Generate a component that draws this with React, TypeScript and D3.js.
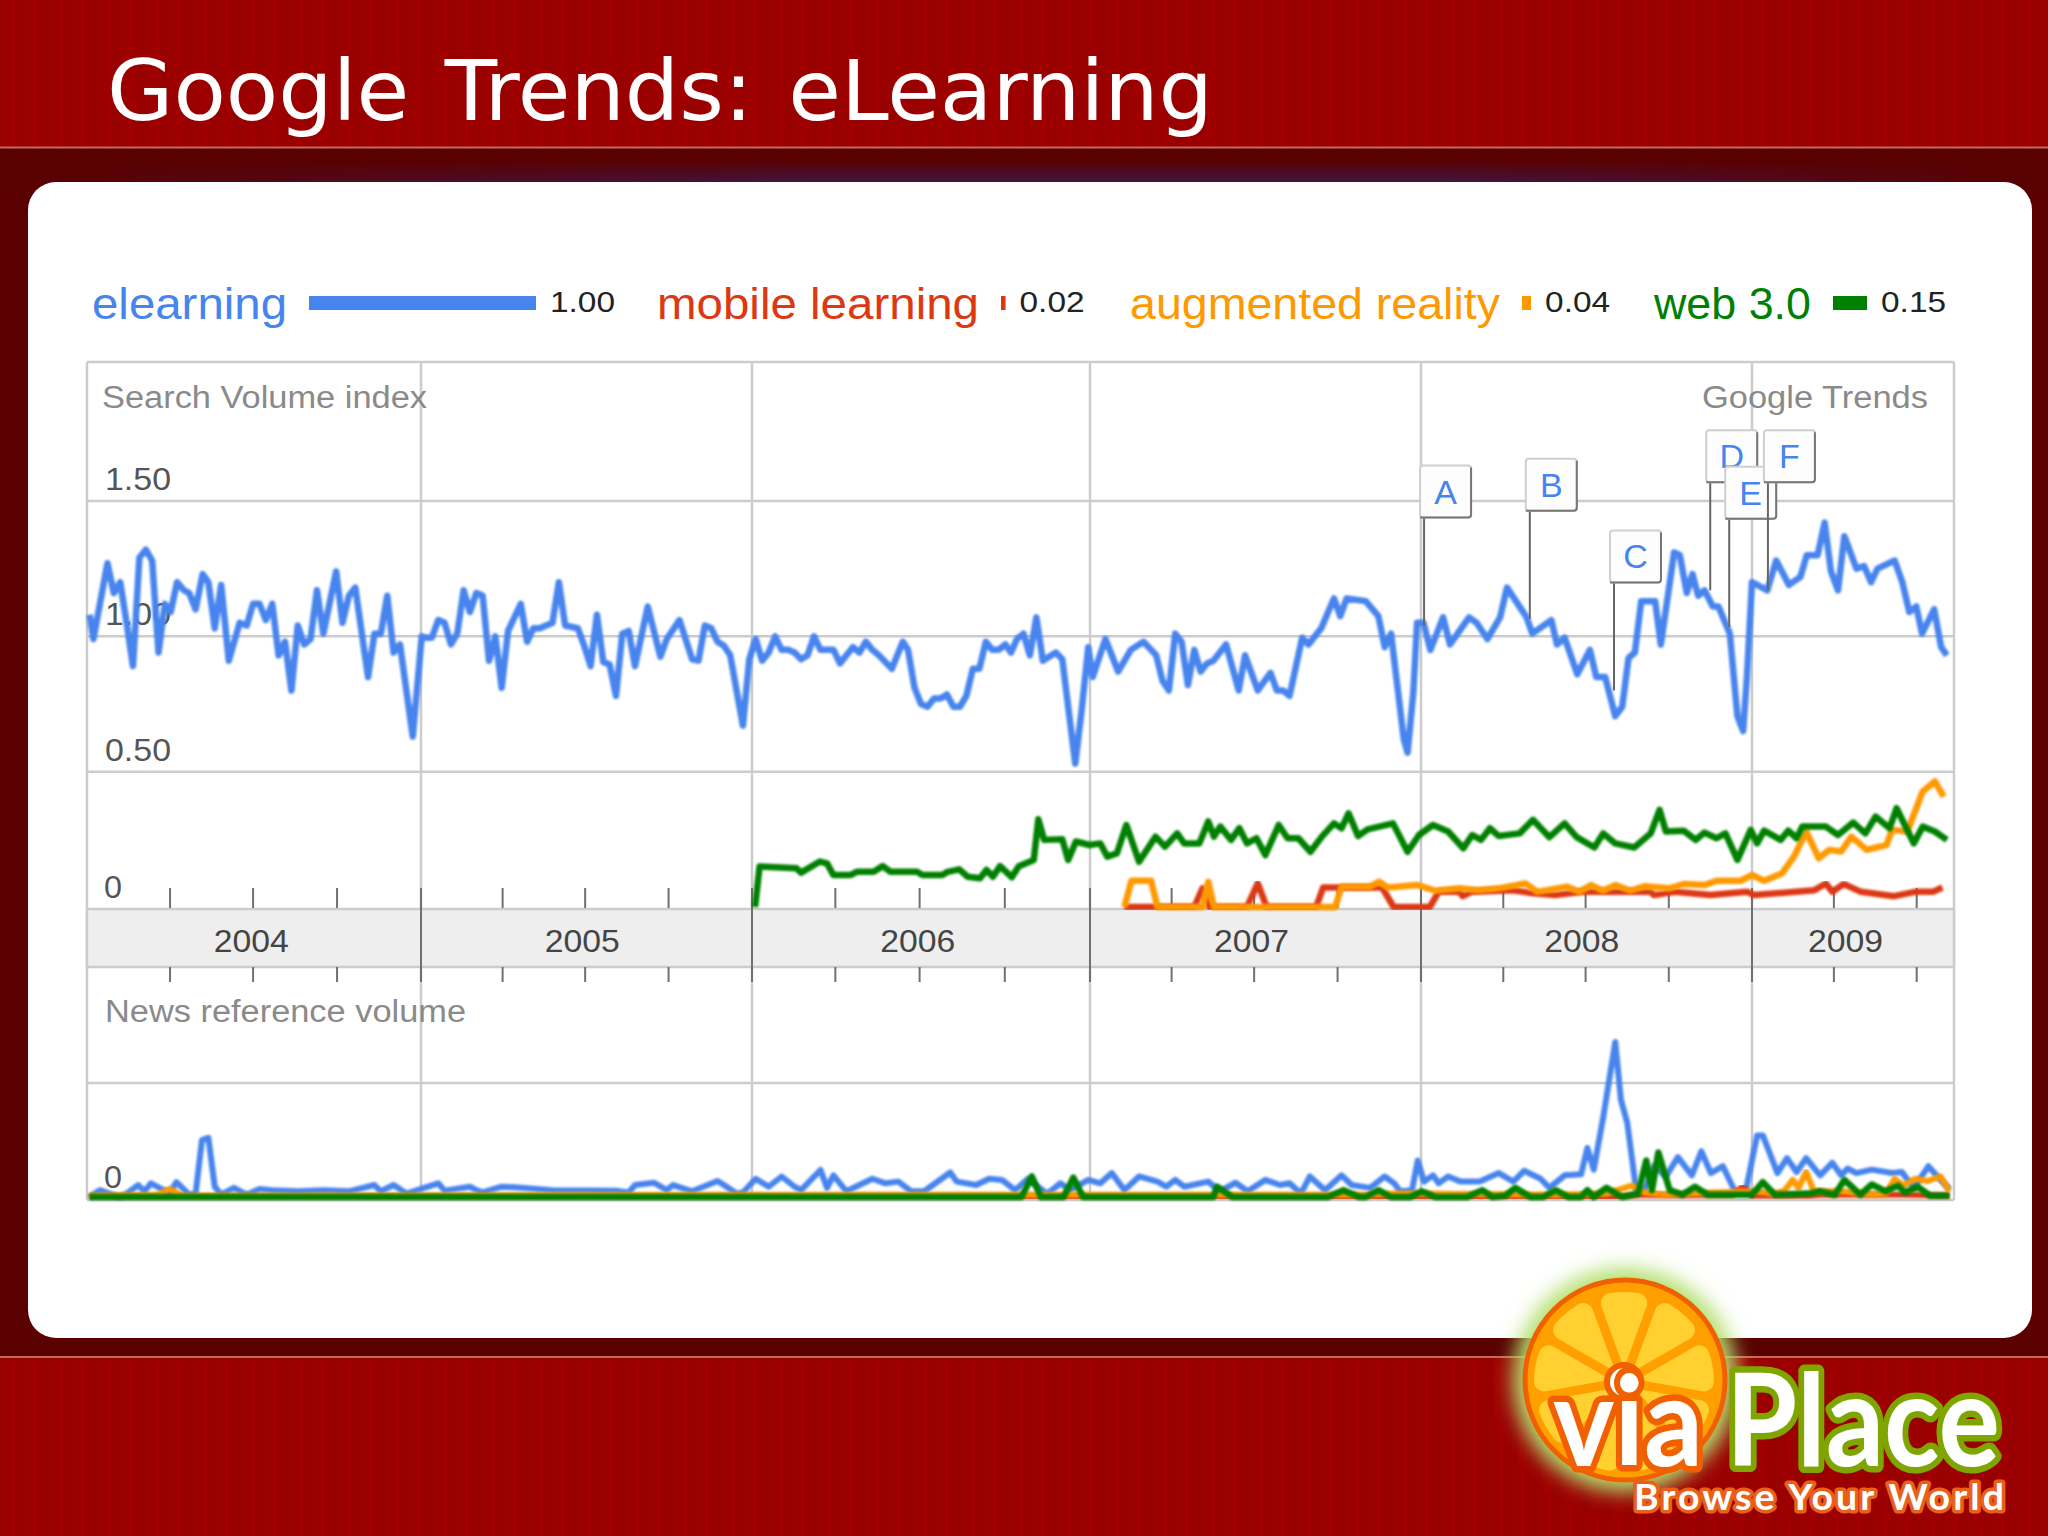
import * as d3 from 'd3';
import React, { useEffect, useRef } from 'react';

type Pt = [number, number];

// all series are [weeks since 1 Jan 2004, value]
const elearning: Pt[] = [
  [0.4,1.08],[1,.99],[3.2,1.27],[4.2,1.16],[5.2,1.2],[6.2,1.05],[7.2,.89],[8.2,1.29],[9.2,1.32],[10.2,1.28],
  [11.2,.94],[12.2,1.12],[13.1,1.09],[14.1,1.2],[15.2,1.17],[16,1.16],[17,1.1],[18.1,1.23],[19,1.2],[20,1.03],
  [21,1.19],[22.2,.91],[23.9,1.05],[25,1.04],[26,1.12],[27,1.12],[28,1.06],[29,1.12],[30,.93],[31,.98],
  [32,.8],[33,1.04],[34,.97],[35,.99],[36,1.17],[37,1.01],[39,1.24],[40,1.05],[41,1.15],[42,1.18],
  [44,.85],[45,1.01],[46,1.01],[47,1.15],[48,.94],[49,.97],[51,.63],[52.4,1],[53,.995],[54,.995],
  [55,1.06],[56,1.05],[57,.97],[58,1.01],[59,1.17],[60,1.09],[61,1.16],[62,1.15],[63,.91],[64,1],
  [65,.81],[66,1.02],[68,1.12],[69,.98],[70,1.03],[71,1.03],[72,1.04],[73,1.05],[74,1.2],[75,1.04],
  [77,1.03],[78,.965],[79,.89],[80,1.08],[81,.905],[82,.896],[83,.78],[84,1.01],[85,1.02],[86,.89],
  [88,1.11],[90,.925],[91,.99],[93,1.06],[95,.915],[96,.91],[97,1.04],[98,1.03],[99,.98],[100,.965],
  [101,.93],[103,.67],[104,.915],[105,.99],[106,.91],[107,.94],[108,1],[109,.95],[110,.95],[111,.94],
  [112,.915],[113,.93],[114,1],[115,.95],[116,.95],[117,.95],[118,.9],[119,.93],[120,.96],[121,.94],
  [122,.98],[123,.95],[124,.93],[126,.88],[127.7,.98],[128.5,.95],[129.5,.81],[130.5,.75],[131.5,.74],[132.5,.77],
  [133.5,.77],[134.5,.785],[135.5,.74],[136.5,.74],[137.5,.78],[138.5,.88],[139.5,.88],[140.5,.98],[141.5,.95],[142.5,.95],
  [143.5,.97],[144.4,.94],[145.3,.99],[146.3,1.01],[147.3,.93],[148.3,1.07],[149.3,.91],[151.3,.94],[152.3,.915],[154.3,.53],
  [155.3,.73],[156.3,.96],[157,.85],[159,.99],[161,.87],[163,.95],[165,.98],[167,.93],[168,.835],[169,.8],
  [170,1.01],[171,.98],[172,.82],[173,.95],[174,.87],[175,.9],[176,.91],[178,.97],[180,.8],[181,.93],
  [183,.8],[185,.865],[186,.8],[187,.8],[188,.78],[190,.995],[191,.97],[193,1.03],[195,1.14],[196,1.075],
  [197,1.14],[200,1.13],[202,1.075],[203,.96],[204,1.01],[206,.62],[206.6,.57],[207.5,.79],[208.1,1.05],[209.1,1.05],
  [210.2,.95],[212.2,1.07],[213.3,.97],[216.3,1.07],[217.5,1.05],[219.2,.99],[221.2,1.07],[222.3,1.18],[225.4,1.07],[226.3,1.01],
  [229.3,1.06],[230.2,.97],[231.4,.995],[233.4,.86],[235.4,.95],[236.4,.85],[237.8,.85],[239.4,.705],[240.5,.74],[241.5,.92],
  [242.5,.94],[243.5,1.13],[245.7,1.13],[246.6,.97],[248.7,1.31],[249.6,1.3],[250.7,1.16],[251.6,1.23],[252.5,1.15],[253.5,1.17],
  [254.8,1.11],[255.7,1.11],[257.5,1.01],[258.7,.705],[259.6,.65],[260.2,.85],[261,1.2],[263.4,1.17],[264.8,1.28],[266.8,1.19],
  [268.6,1.22],[269.6,1.3],[271.3,1.3],[272.4,1.42],[273.4,1.24],[274.5,1.17],[275.5,1.37],[277.4,1.25],[278.6,1.26],[279.7,1.2],
  [280.7,1.25],[283.4,1.28],[284.6,1.2],[285.7,1.09],[286.8,1.11],[287.7,1.01],[289.6,1.1],[290.7,.96],[291.6,.93],
];

const web30: Pt[] = [
  [104.9,0],[105.6,.15],[111.3,.143],[112,.127],[114.9,.168],[116,.161],[117,.118],[119.6,.118],[120.6,.13],[123.2,.13],
  [124.6,.151],[125.8,.13],[129.9,.13],[130.7,.118],[133.8,.118],[134.6,.13],[136.4,.139],[137.7,.112],[139.6,.106],[140.6,.137],
  [141.6,.112],[142.7,.151],[144.5,.11],[145.6,.151],[147.9,.174],[148.6,.324],[149.5,.248],[152.3,.25],[153.2,.174],[154.4,.242],
  [156.5,.229],[158.2,.235],[159.3,.186],[160.8,.198],[162.3,.303],[164.3,.167],[166.9,.26],[168.4,.223],[170.3,.272],[171.4,.235],
  [173.8,.235],[175.2,.316],[176.1,.26],[177.1,.297],[178.8,.248],[180.1,.291],[181.3,.235],[182.8,.254],[184.2,.192],[186.3,.303],
  [187.7,.254],[189.4,.254],[191.3,.204],[193.1,.26],[195,.309],[196.2,.291],[197.3,.346],[198.8,.262],[200.3,.287],[204.3,.309],
  [206.6,.204],[208.4,.266],[210.6,.303],[213,.279],[215.4,.217],[216.8,.266],[218.2,.248],[219.6,.291],[221,.262],[224.3,.272],
  [226.4,.322],[229,.258],[231.4,.309],[233.3,.258],[236.1,.22],[237.5,.272],[239.4,.235],[242.4,.22],[245,.272],[246.4,.359],
  [247.4,.279],[250.2,.282],[252.1,.248],[253.5,.275],[255.4,.254],[256.8,.272],[258.7,.174],[260.8,.285],[261.8,.235],[262.9,.282],
  [265.5,.248],[266.7,.282],[268,.254],[268.9,.297],[272.6,.297],[274.5,.266],[276.9,.312],[278.8,.272],[280.4,.334],[282.6,.291],
  [283.7,.365],[286.4,.235],[287.8,.297],[289.7,.279],[291.6,.248],
];

const augmentedReality: Pt[] = [
  [162,0],[163.1,.097],[166.2,.097],[167.2,0],[174.3,0],[175.2,.093],[176.1,0],[195.2,0],[196.2,.075],[200.7,.075],
  [202.1,.093],[203.5,.072],[208.2,.081],[211,.06],[214.8,.069],[217.7,.062],[221,.069],[225.2,.087],[227.1,.056],[231.8,.075],
  [233.7,.056],[235.6,.081],[237.5,.06],[239.4,.081],[241.8,.06],[244.1,.077],[247.9,.069],[250.2,.085],[253.5,.081],[255.4,.097],
  [259.2,.097],[261,.118],[262.9,.097],[265.7,.124],[267.6,.186],[269.5,.279],[271.5,.18],[273.1,.211],[275,.205],[276.6,.26],
  [279,.211],[282.1,.229],[283,.285],[285.4,.279],[287.8,.427],[289.7,.464],[291.1,.408],
];

const mobileLearning: Pt[] = [
  [162,0],[173,0],[174.3,.069],[175.4,0],[181.3,0],[183,.087],[184.4,0],[192.2,0],[193.3,.072],[202.6,.072],
  [204.4,0],[210.1,0],[211.5,.056],[214.8,.056],[215.3,.04],[216.7,.056],[223.3,.062],[225.7,.053],[229.9,.044],[234.2,.056],
  [245,.056],[245.5,.044],[248.8,.056],[254.4,.044],[260.3,.056],[261.3,.044],[270.8,.062],[272.6,.087],[273.6,.056],[275.4,.085],
  [278.1,.056],[283.3,.04],[286.6,.056],[289.4,.056],[290.9,.072],
];

const newsElearning: Pt[] = [
  [0.4,0],[2,.06],[5,0],[6,.02],[8,.105],[9,.05],[10,.12],[12,.06],[13,.04],[14,.13],
  [16,.02],[17,.03],[18,.5],[19,.52],[20,.09],[21,.02],[23,.08],[25,.02],[27,.07],[29,.06],
  [33,.05],[37,.06],[41,.05],[45,.105],[46,.05],[48,.105],[50,.03],[55,.12],[56,.056],[60,.09],
  [61,.06],[62,.04],[65,.09],[67,.085],[73,.06],[83,.055],[85,.04],[86,.105],[89,.125],[91,.06],
  [92,.105],[95,.05],[99,.14],[100,.105],[102,.03],[103,.04],[105,.16],[107,.09],[109,.18],[111,.09],
  [112,.06],[115,.237],[116,.08],[117,.19],[119,.05],[123,.16],[125,.12],[127,.135],[129,.05],[131,.05],
  [135,.215],[136,.135],[139,.105],[141,.16],[143,.15],[145,.06],[147,.16],[148.5,.09],[150,.03],[152,.12],
  [153.5,.06],[156.3,.15],[158.2,.12],[160,.21],[162,.06],[164.3,.18],[167.2,.135],[168.6,.09],[170,.15],[171.4,.09],
  [175.2,.135],[177,.05],[179.5,.125],[181.4,.05],[184.2,.15],[186.5,.105],[188,.12],[189.8,.03],[191.2,.18],[193.6,.06],
  [196.2,.19],[197.8,.105],[200.7,.08],[203,.18],[204.5,.12],[205.4,.05],[207.3,.06],[208.2,.32],[209.2,.135],[210.6,.19],
  [211.5,.12],[213,.18],[215,.135],[218,.135],[221,.21],[223.3,.135],[225,.23],[227.6,.16],[229,.08],[231.4,.19],
  [234,.2],[235,.43],[236,.24],[237.5,.7],[239.4,1.36],[240.3,.85],[241.3,.65],[242.7,.06],[244,.06],[245.5,.27],
  [247.4,.18],[249.3,.35],[251.5,.19],[253,.4],[254.5,.21],[256.4,.27],[258.3,.05],[260,.05],[261.8,.54],[262.7,.54],
  [265,.21],[266.5,.34],[268,.22],[269.5,.34],[271.7,.19],[273.6,.3],[275,.19],[276,.25],[277.4,.21],[279.8,.24],
  [283,.21],[284.5,.22],[286.4,.08],[288.7,.27],[290.6,.15],[292,.07],
];

const newsWeb30: Pt[] = [
  [0.4,0],[146,0],[147.6,.18],[149,0],[152.5,0],[154,.17],[155.5,0],[176,0],[176.6,.09],[179,0],
  [194,0],[196.5,.06],[199,0],[200,0],[202,.06],[204,0],[207,0],[208.8,.05],[211,0],[216,0],
  [218.4,.06],[220,0],[222,.01],[223.6,.08],[226,0],[228,0],[230,.06],[232,0],[234,0],[235,.06],
  [236,0],[238,.08],[240.5,0],[243,.03],[244.3,.32],[245.2,.06],[246.2,.39],[248,.06],[250,.02],[252,.09],
  [254,.02],[258,.02],[261,.02],[262.7,.13],[264.6,.02],[270,.03],[271.7,.05],[274,.02],[275.5,.15],[278,.02],
  [279.8,.11],[282,.05],[283.9,.1],[285,.04],[287,.09],[289,.01],[292,.01],
];

const newsAugmented: Pt[] = [
  [0.4,.01],[11,.02],[13,.07],[15,.01],[120,.02],[200,.02],[205,.03],[230,.02],[238,.03],[242,.1],
  [244,.04],[247,.02],[255,.04],[262,.05],[264,.03],[266,.05],[267.4,.15],[268.3,.08],[269.5,.22],[270.7,.05],
  [275,.05],[280,.02],[282,.03],[283.4,.16],[284.8,.1],[286.6,.16],[288.5,.14],[290.6,.18],[292,.05],
];

const newsMobile: Pt[] = [
  [0.4,0],[240,0],[243,.02],[250,.015],[258,.02],[259.5,.09],[261,.01],[270,.01],[272,.02],[285,.02],[292,.01],
];

const yearLabels = ['2004', '2005', '2006', '2007', '2008', '2009'];
const yearLabelWeeks = [25.7, 77.7, 130, 182, 234.1, 275.7];
const searchTicks = [0.5, 1, 1.5];
const searchTickLabels = ['0.50', '1.00', '1.50'];

const annotationLabels = ['A', 'B', 'C', 'D', 'E', 'F'];
const annotationWeeks = [209.2, 225.9, 239.2, 254.4, 257.4, 263.5];
const annotationValues = [1.04, 1.065, 0.8, 1.17, 1.035, 1.17];

const legendNames = ['elearning', 'mobile learning', 'augmented reality', 'web 3.0'];
const legendValues = [1.0, 0.02, 0.04, 0.15];
const legendColors = ['#4684ee', '#dc3912', '#ff9900', '#008000'];

const logoSegments = [1, 1, 1, 1, 1, 1, 1, 1, 1];

const weekDate = (w: number) => new Date(new Date(2004, 0, 1).getTime() + w * 7 * 864e5);

function App() {
  const ref = useRef<SVGSVGElement>(null);

  useEffect(() => {
    const svg = d3.select(ref.current);
    svg.selectAll('*').remove();

    const text = (g: any, s: string, x: number, y: number, size: number, fill: string, len?: number, font = '"Liberation Sans", Arial, sans-serif') => {
      const t = g.append('text').attr('x', x).attr('y', y).attr('font-size', size).attr('fill', fill)
        .attr('font-family', font).text(s);
      if (len) t.attr('textLength', len).attr('lengthAdjust', 'spacingAndGlyphs');
      return t;
    };

    // defs
    const defs = svg.append('defs');
    const stripes = defs.append('pattern').attr('id', 'stripes').attr('patternUnits', 'userSpaceOnUse')
      .attr('width', 24).attr('height', 24);
    stripes.append('rect').attr('width', 24).attr('height', 24).attr('fill', '#990000');
    stripes.append('rect').attr('x', 6).attr('width', 10).attr('height', 24).attr('fill', '#9e0000');
    defs.append('filter').attr('id', 'soft').append('feGaussianBlur').attr('stdDeviation', 0.8);
    defs.append('filter').attr('id', 'glow').attr('x', '-30%').attr('y', '-30%').attr('width', '160%').attr('height', '160%')
      .append('feGaussianBlur').attr('stdDeviation', 10);
    const haze = defs.append('linearGradient').attr('id', 'haze');
    haze.append('stop').attr('offset', '0%').attr('stop-color', '#3a1a50').attr('stop-opacity', 0);
    haze.append('stop').attr('offset', '40%').attr('stop-color', '#3a1a50').attr('stop-opacity', 0.9);
    haze.append('stop').attr('offset', '70%').attr('stop-color', '#3a1a50').attr('stop-opacity', 0.9);
    haze.append('stop').attr('offset', '100%').attr('stop-color', '#3a1a50').attr('stop-opacity', 0);
    const hazeFade = defs.append('linearGradient').attr('id', 'hazeFade').attr('x1', 0).attr('y1', 0).attr('x2', 0).attr('y2', 1);
    hazeFade.append('stop').attr('offset', '0%').attr('stop-color', 'black');
    hazeFade.append('stop').attr('offset', '100%').attr('stop-color', 'white');
    defs.append('mask').attr('id', 'hazeMask').attr('maskUnits', 'userSpaceOnUse')
      .attr('x', 0).attr('y', 160).attr('width', 2048).attr('height', 24)
      .append('rect').attr('y', 160).attr('width', 2048).attr('height', 24).attr('fill', 'url(#hazeFade)');
    const wedge = defs.append('radialGradient').attr('id', 'wedge').attr('gradientUnits', 'userSpaceOnUse')
      .attr('cx', 1624).attr('cy', 1382).attr('r', 92);
    wedge.append('stop').attr('offset', '0%').attr('stop-color', '#fffdf0');
    wedge.append('stop').attr('offset', '50%').attr('stop-color', '#fff0b0');
    wedge.append('stop').attr('offset', '100%').attr('stop-color', '#ffd030');

    // slide background
    svg.append('rect').attr('width', 2048).attr('height', 1536).attr('fill', '#5a0000');
    svg.append('rect').attr('width', 2048).attr('height', 147).attr('fill', 'url(#stripes)');
    svg.append('rect').attr('y', 1357).attr('width', 2048).attr('height', 179).attr('fill', 'url(#stripes)');
    svg.append('rect').attr('y', 146.5).attr('width', 2048).attr('height', 2).attr('fill', '#c06a58');
    svg.append('rect').attr('y', 1356).attr('width', 2048).attr('height', 2).attr('fill', '#c06a58');
    svg.append('rect').attr('y', 160).attr('width', 2048).attr('height', 24).attr('fill', 'url(#haze)').attr('mask', 'url(#hazeMask)');
    svg.append('rect').attr('x', 28).attr('y', 182).attr('width', 2004).attr('height', 1156).attr('rx', 28).attr('fill', '#fff');

    text(svg, 'Google Trends: eLearning', 107, 120, 84, '#fff', 1106, '"DejaVu Sans", Verdana, sans-serif').attr('word-spacing', 8);

    // legend
    const x = d3.scaleTime()
      .domain([new Date(2004, 0, 1), new Date(2005, 0, 1), new Date(2006, 0, 1), new Date(2007, 0, 1), new Date(2008, 0, 1), new Date(2009, 0, 1), new Date(2009, 7, 11)])
      .range([87, 421, 752, 1090, 1421, 1752, 1954]);
    const bar = d3.scaleLinear().domain([0, 1]).range([0, 227]);

    const legendX = [92, 657, 1130, 1654];
    const nameLen = [195, 322, 370, 157];
    const legend = svg.append('g');
    legendNames.forEach((name, i) => {
      text(legend, name, legendX[i], 319, 44, legendColors[i], nameLen[i]);
      const bx = legendX[i] + nameLen[i] + 22;
      legend.append('rect').attr('x', bx).attr('y', 296).attr('height', 14).attr('width', bar(legendValues[i])).attr('fill', legendColors[i]);
      text(legend, legendValues[i].toFixed(2), bx + bar(legendValues[i]) + 14, 312, 29, '#222', 65);
    });

    // grid
    const yS = d3.scaleLinear().domain([0, 1.5]).range([907, 501]);
    const yN = d3.scaleLinear().domain([0, 1]).range([1197, 1083]);
    const grid = svg.append('g').attr('stroke', '#cccccc').attr('stroke-width', 2.5);
    const years = d3.timeYear.range(new Date(2005, 0, 1), new Date(2010, 0, 1));
    const hLines = [362, ...searchTicks.map((d) => yS(d)), 1083, 1200];
    hLines.forEach((y) => grid.append('line').attr('x1', 87).attr('x2', 1954).attr('y1', y).attr('y2', y));
    [87, 1954, ...years.map((d) => x(d))].forEach((px) =>
      grid.append('line').attr('x1', px).attr('x2', px).attr('y1', 362).attr('y2', 1200));

    // axis labels
    const labels = svg.append('g');
    text(labels, 'Search Volume index', 102, 408, 31, '#8a8a8a', 325);
    text(labels, 'Google Trends', 1702, 408, 31, '#8a8a8a', 226);
    text(labels, 'News reference volume', 105, 1022, 31, '#8a8a8a', 361);
    searchTickLabels.forEach((s, i) => text(labels, s, 105, yS(searchTicks[i]) - 11, 32, '#555', 66));
    text(labels, '0', 104, 898, 32, '#555', 18);
    text(labels, '0', 104, 1188, 32, '#555', 18);

    // year band and ticks
    svg.append('rect').attr('x', 87).attr('y', 909).attr('width', 1867).attr('height', 58).attr('fill', '#eeeeee');
    svg.append('g').attr('stroke', '#cccccc').attr('stroke-width', 2.5).call((g: any) => {
      g.append('line').attr('x1', 87).attr('x2', 1954).attr('y1', 909).attr('y2', 909);
      g.append('line').attr('x1', 87).attr('x2', 1954).attr('y1', 967).attr('y2', 967);
      g.append('line').attr('x1', 87).attr('x2', 87).attr('y1', 909).attr('y2', 967);
      g.append('line').attr('x1', 1954).attr('x2', 1954).attr('y1', 909).attr('y2', 967);
    });
    const ticks = svg.append('g').attr('stroke', '#707070').attr('stroke-width', 2);
    const tickDates = x.ticks(d3.timeMonth.every(3) as any);
    tickDates.filter((d) => d > x.domain()[0]).forEach((d) => {
      const px = x(d);
      if (d.getMonth() === 0) {
        ticks.append('line').attr('x1', px).attr('x2', px).attr('y1', 888).attr('y2', 982);
      } else {
        ticks.append('line').attr('x1', px).attr('x2', px).attr('y1', 888).attr('y2', 908);
        ticks.append('line').attr('x1', px).attr('x2', px).attr('y1', 967).attr('y2', 982);
      }
    });
    yearLabels.forEach((s, i) =>
      text(svg, s, x(weekDate(yearLabelWeeks[i])), 952, 31, '#444', 75).attr('text-anchor', 'middle'));

    // series
    const drawSeries = (data: Pt[], y: any, color: string, width: number) => {
      const line = d3.line<Pt>().x((d) => x(weekDate(d[0]))).y((d) => y(d[1]));
      svg.append('path').datum(data).attr('d', line).attr('fill', 'none').attr('stroke', color)
        .attr('stroke-width', width).attr('stroke-linejoin', 'round').attr('filter', 'url(#soft)');
    };
    drawSeries(elearning, yS, legendColors[0], 6.5);
    drawSeries(mobileLearning, yS, legendColors[1], 6.5);
    drawSeries(augmentedReality, yS, legendColors[2], 6.5);
    drawSeries(web30, yS, legendColors[3], 6.5);
    drawSeries(newsElearning, yN, legendColors[0], 6);
    drawSeries(newsMobile, yN, legendColors[1], 6);
    drawSeries(newsAugmented, yN, legendColors[2], 6);
    drawSeries(newsWeb30, yN, legendColors[3], 6.5);

    // annotation flags
    annotationLabels.forEach((s, i) => {
      const px = x(weekDate(annotationWeeks[i]));
      const py = yS(annotationValues[i]);
      const top = py - 108 - 52;
      const g = svg.append('g');
      g.append('line').attr('x1', px).attr('x2', px).attr('y1', py).attr('y2', py - 108).attr('stroke', '#666').attr('stroke-width', 2);
      g.append('rect').attr('x', px - 4).attr('y', top).attr('width', 51).attr('height', 52).attr('rx', 3)
        .attr('fill', '#fdfdfd').attr('stroke', '#cfcfcf').attr('stroke-width', 2);
      g.append('path').attr('d', `M${px - 4},${top + 52}H${px + 44}q3,0 3,-3V${top + 2}`).attr('fill', 'none')
        .attr('stroke', '#777').attr('stroke-width', 2);
      text(g, s, px + 21.5, top + 38, 34, legendColors[0]).attr('text-anchor', 'middle');
    });

    // logo
    const logo = svg.append('g');
    logo.append('circle').attr('cx', 1625).attr('cy', 1380).attr('r', 112).attr('fill', '#b4e070').attr('filter', 'url(#glow)');
    logo.append('circle').attr('cx', 1625).attr('cy', 1380).attr('r', 100).attr('fill', '#ffa000')
      .attr('stroke', '#f06000').attr('stroke-width', 5);
    const pie = d3.pie<number>().sort(null).startAngle(-Math.PI / 9).endAngle(2 * Math.PI - Math.PI / 9);
    const arc = d3.arc<any>().innerRadius(18).outerRadius(90).padAngle(0.1).cornerRadius(10);
    logo.append('g').attr('transform', 'translate(1624,1382)').selectAll('path').data(pie(logoSegments)).enter()
      .append('path').attr('d', arc).attr('fill', 'url(#wedge)');
    logo.append('circle').attr('cx', 1624).attr('cy', 1382).attr('r', 17).attr('fill', '#fff').attr('stroke', '#f06000').attr('stroke-width', 6);
    const brand = '"Lato", "Noto Sans", sans-serif';
    const stroke = (t: any, color: string, w: number) =>
      t.attr('stroke', color).attr('stroke-width', w).attr('stroke-linejoin', 'round').attr('paint-order', 'stroke').attr('font-weight', 700);
    stroke(text(logo, 'via', 1553, 1466, 124, '#fff', 150, brand), '#f06000', 13);
    stroke(text(logo, 'Place', 1726, 1466, 128, '#fff', 274, brand), '#7fa500', 13);
    stroke(text(logo, 'Browse Your World', 1634, 1510, 36, '#fff', 373, brand), '#e8601a', 7).attr('letter-spacing', 3);
  }, []);

  return (
    <svg ref={ref} width={2048} height={1536} style={{ position: 'absolute', left: 0, top: 0, display: 'block' }} />
  );
}

export default App;
